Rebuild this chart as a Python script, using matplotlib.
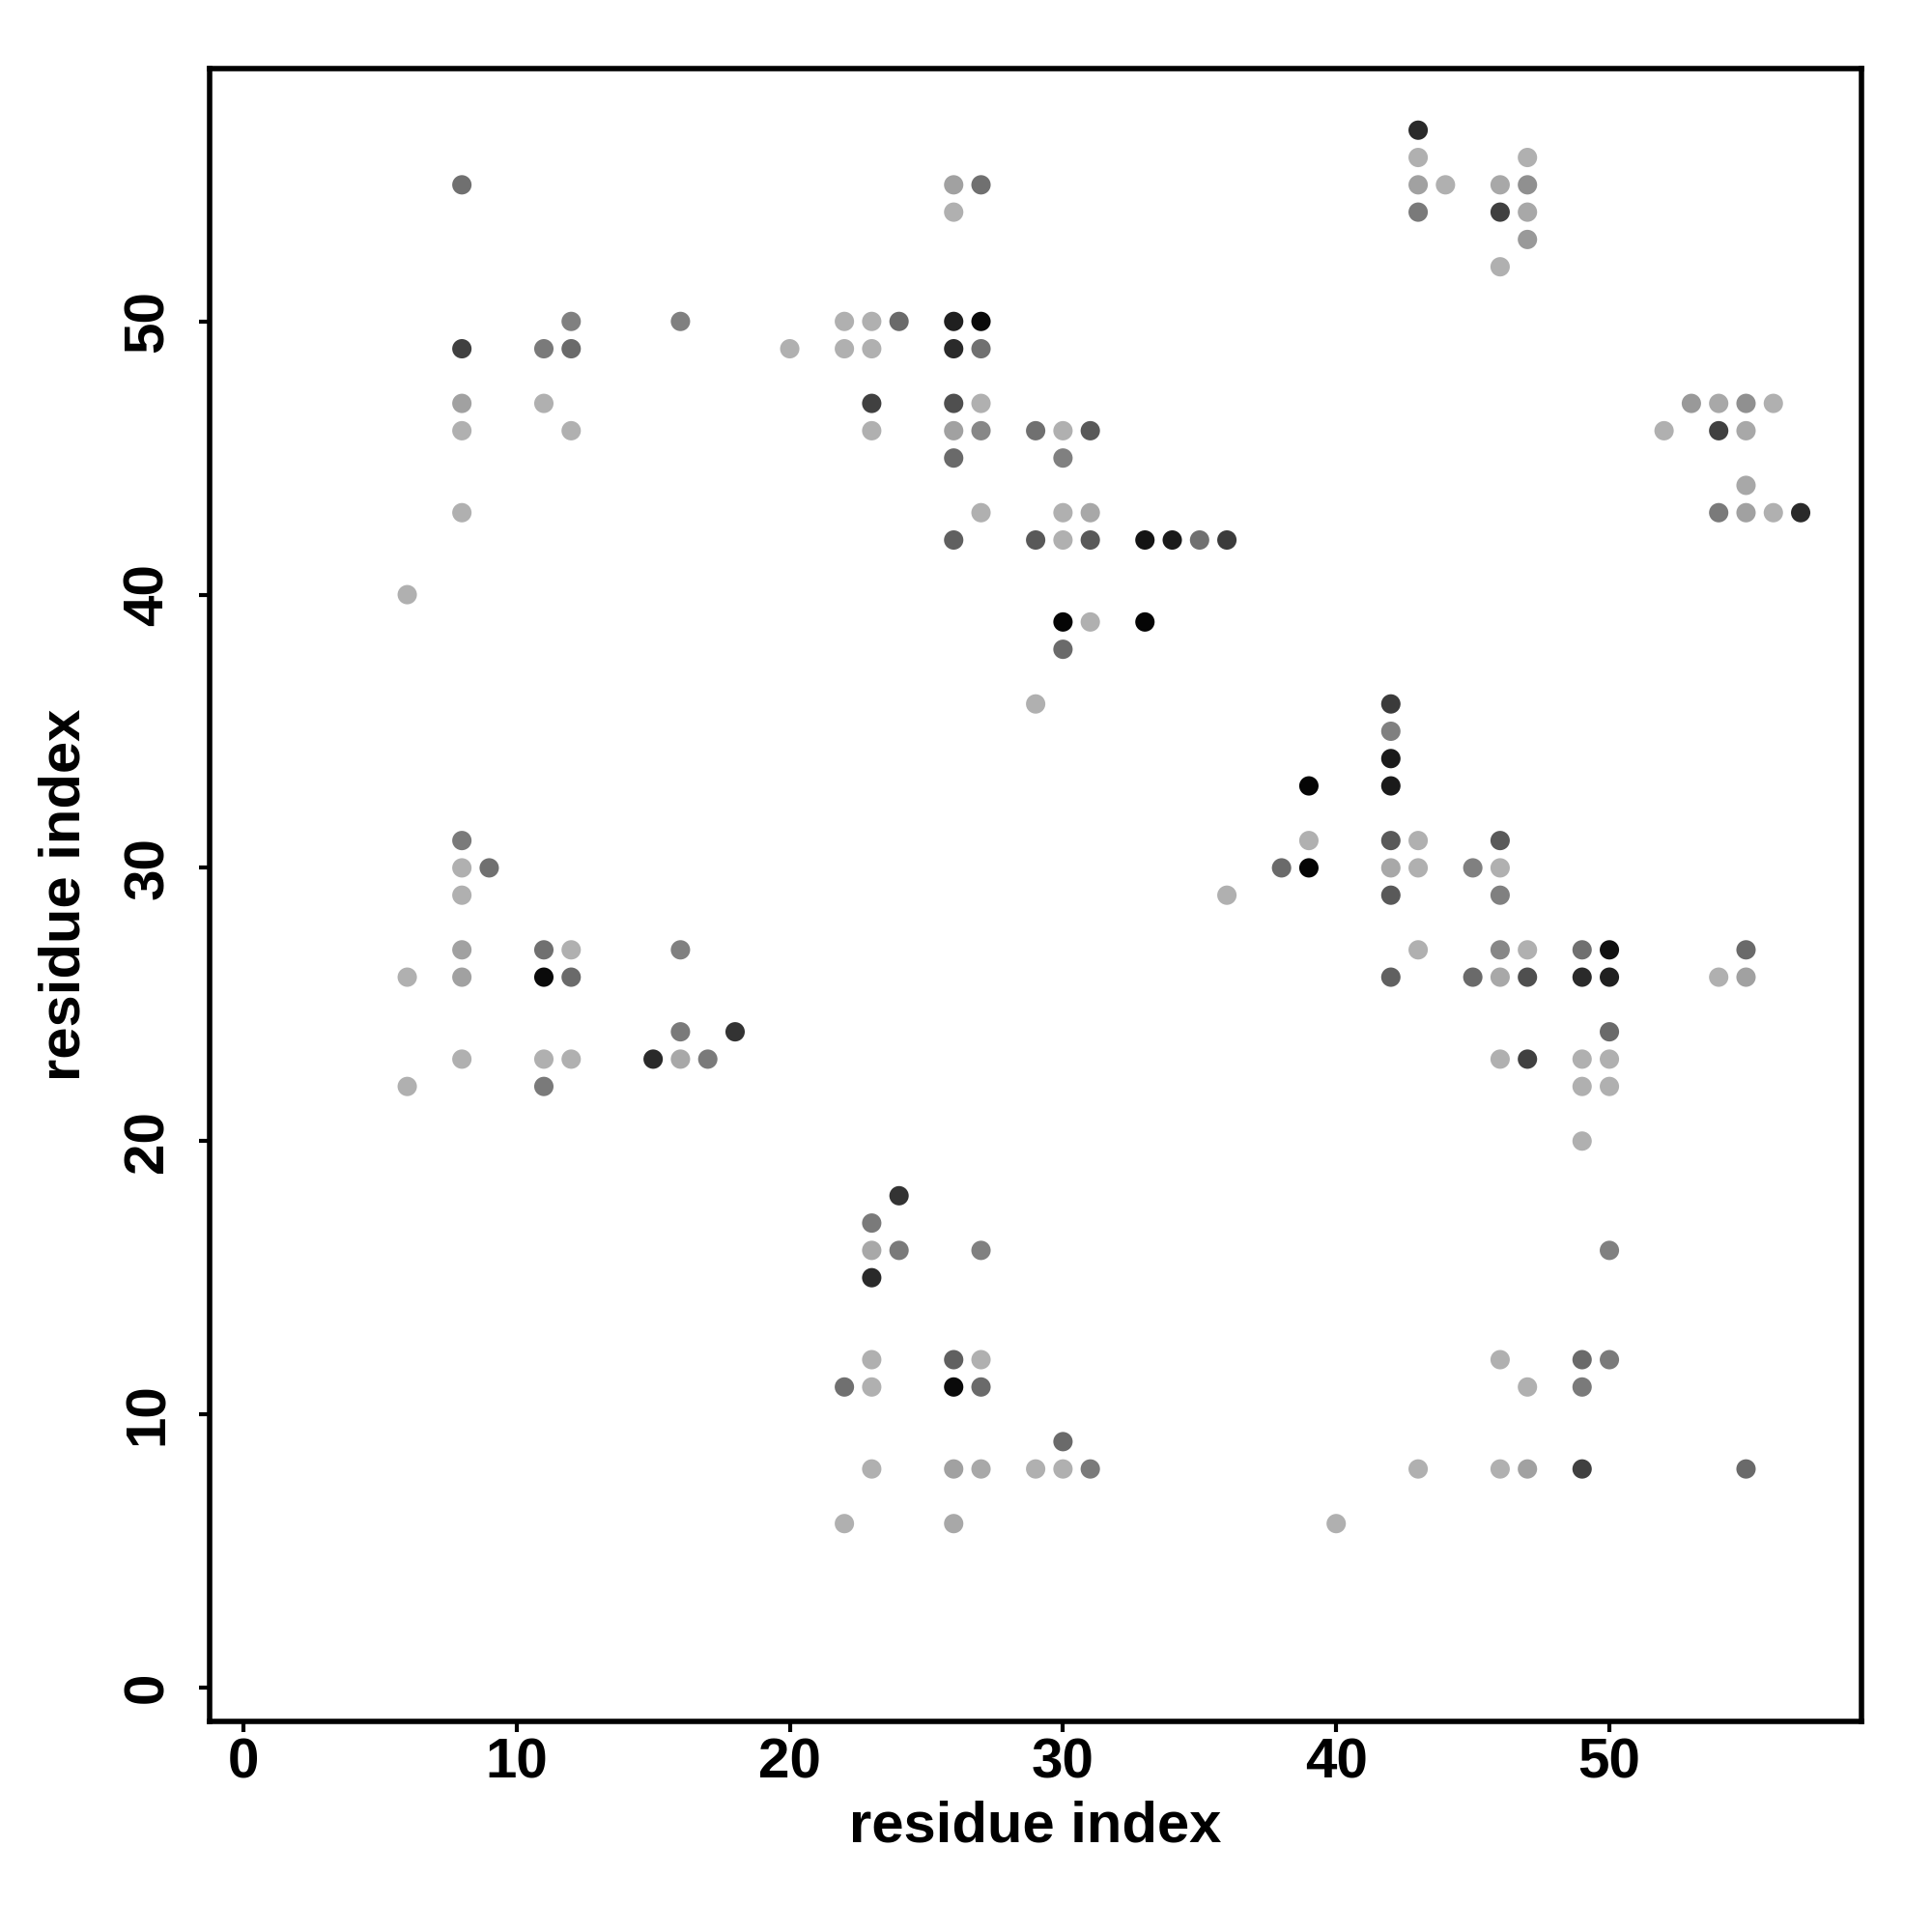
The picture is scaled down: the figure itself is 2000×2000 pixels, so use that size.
import matplotlib
matplotlib.use("Agg")
import matplotlib.pyplot as plt

plt.rcParams['font.family'] = ['Liberation Sans', 'DejaVu Sans']

# contact map: residue i, residue j, grey level of the dot (0 = black, 1 = white)
res_i = [8, 8, 8, 8, 8, 11, 11, 12, 12, 12, 16, 6,
         26, 27, 26, 20, 22, 23, 24, 22, 23, 26, 27, 26, 27, 23, 26, 27, 23, 26,
         27, 26, 29, 30, 31, 30, 27, 30, 31, 26, 29, 30, 31, 33, 34, 35, 36, 30,
         31, 33, 30, 29,
         39, 39, 38, 39, 36,
         42, 42, 42, 42, 42, 43, 46, 42, 43, 45, 46, 42, 46, 43, 46, 47, 49, 50,
         55, 42, 45, 46, 47, 49, 50, 54, 55, 50, 46, 47, 49, 50, 49, 50, 49,
         43, 43, 47, 43, 44, 46, 47, 43, 46, 47, 47, 46,
         53, 54, 55, 56, 52, 54, 55, 55, 54, 55, 56, 57,
         8, 8, 9, 8, 8, 11, 12, 16, 6, 8, 11, 12, 16, 18, 8, 11, 12, 15, 16, 17,
         6, 11,
         24, 23, 23, 24, 27, 23, 23, 26, 27, 22, 23, 26, 27, 30, 23, 26, 27, 29,
         30, 31, 22, 26,
         50, 46, 49, 50, 47, 49, 43, 46, 47, 49, 55, 40]

res_j = [55, 49, 47, 46, 43, 49, 47, 50, 49, 46, 50, 40,
         55, 55, 54, 49, 50, 50, 50, 49, 49, 50, 50, 49, 49, 47, 47, 47, 46, 46,
         46, 45, 46, 46, 46, 45, 43, 43, 43, 42, 42, 42, 42, 42, 42, 42, 42, 39,
         39, 39, 38, 36,
         33, 31, 30, 30, 29,
         36, 35, 34, 33, 31, 31, 31, 30, 30, 30, 30, 29, 29, 27, 27, 27, 27, 27,
         27, 26, 26, 26, 26, 26, 26, 26, 26, 24, 23, 23, 23, 23, 22, 22, 20,
         57, 56, 56, 55, 55, 55, 55, 54, 54, 54, 53, 52,
         47, 47, 47, 47, 46, 46, 46, 44, 43, 43, 43, 43,
         31, 30, 30, 29, 27, 27, 27, 27, 26, 26, 26, 26, 24, 24, 23, 23, 23, 23,
         23, 23, 22, 22,
         18, 17, 16, 16, 16, 15, 12, 12, 12, 11, 11, 11, 11, 9, 8, 8, 8, 8,
         8, 8, 6, 6,
         16, 12, 12, 12, 11, 11, 8, 8, 8, 8, 8, 6]

shade = [.44, .25, .63, .69, .69, .48, .69, .50, .415, .69, .50, .69,
         .63, .44, .69, .69, .69, .69, .415, .69, .69, .125, .04, .165, .44, .25,
         .31, .69, .69, .63, .53, .415, .44, .69, .35, .50, .69, .69, .66, .375,
         .35, .69, .35, .08, .10, .44, .23, .02, .69, .02, .415, .69,
         .02, .69, .415, .02, .69,
         .23, .50, .10, .10, .35, .69, .35, .66, .69, .50, .69, .35, .50, .69,
         .53, .69, .44, .063, .415, .375, .415, .66, .31, .165, .125, .69, .63,
         .415, .69, .25, .69, .69, .69, .69, .69,
         .165, .69, .69, .63, .69, .66, .565, .48, .25, .66, .60, .69,
         .60, .66, .565, .69, .69, .25, .66, .66, .48, .63, .69, .165,
         .48, .69, .44, .69, .63, .44, .69, .50, .69, .63, .04, .415, .48, .20,
         .69, .69, .69, .165, .66, .48, .69, .48,
         .20, .48, .66, .48, .50, .165, .69, .375, .69, .44, .69, .04, .415, .415,
         .69, .63, .66, .69, .69, .48, .69, .66,
         .50, .69, .415, .48, .69, .48, .69, .69, .63, .25, .415, .69]

x_ticks = [0, 10, 20, 30, 40, 50]
y_ticks = [0, 10, 20, 30, 40, 50]

fig = plt.figure(figsize=(10, 10), dpi=200)
ax = fig.add_axes([0.1084, 0.109, 0.8553, 0.8553])

ax.scatter(res_i, res_j, s=52, c=[str(g) for g in shade], linewidths=0, zorder=3)

ax.set_xlim(-1.24, 59.24)
ax.set_ylim(-1.24, 59.24)
ax.set_xticks(x_ticks)
ax.set_yticks(y_ticks)

for side in ax.spines.values():
    side.set_linewidth(2.0)
    side.set_color('black')

ax.tick_params(axis='both', length=4, width=1.5, labelsize=21)
ax.tick_params(axis='x', pad=2)
ax.tick_params(axis='y', pad=9)
for lab in ax.get_xticklabels():
    lab.set_fontweight('bold')
for lab in ax.get_yticklabels():
    lab.set_fontweight('bold')
    lab.set_rotation(90)
    lab.set_verticalalignment('center')

ax.set_xlabel("residue index", fontsize=21.5, fontweight='bold', va='center')
ax.set_ylabel("residue index", fontsize=21.5, fontweight='bold', va='center')
ax.xaxis.set_label_coords(0.5, -0.064)
ax.yaxis.set_label_coords(-0.0875, 0.5)

fig.savefig("out.png", dpi=200, facecolor='white')
